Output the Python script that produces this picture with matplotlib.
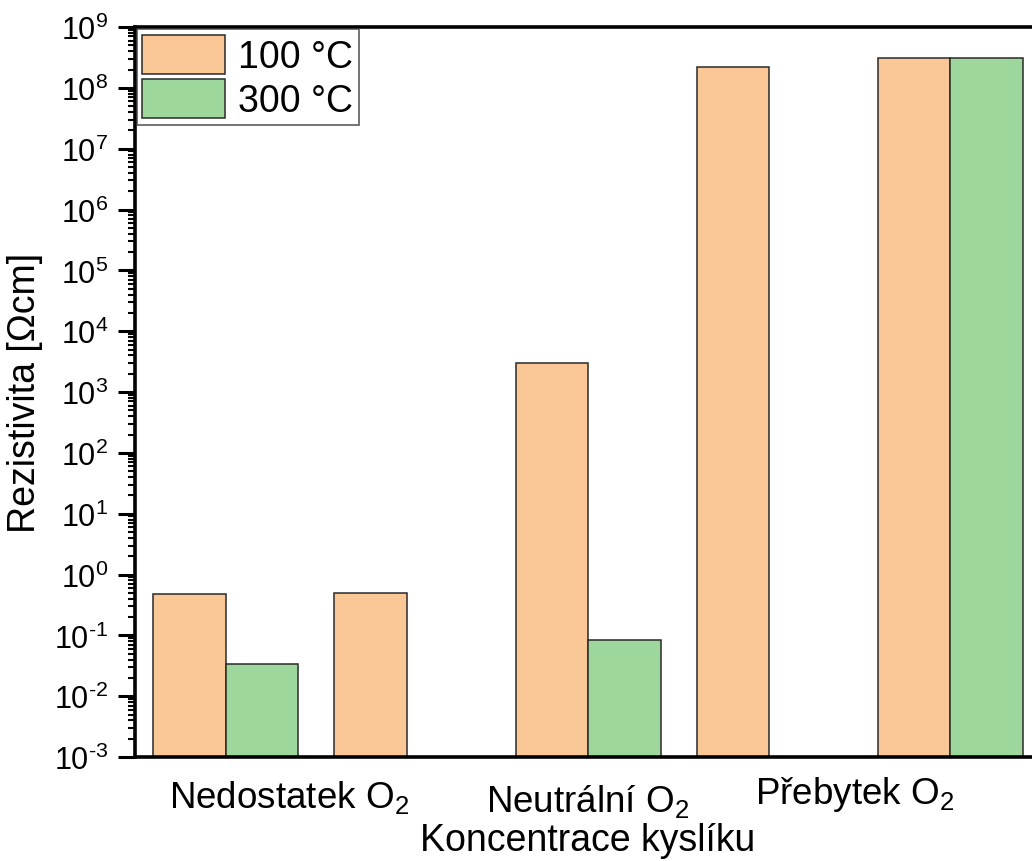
import numpy as np
import matplotlib
matplotlib.use("Agg")
import matplotlib.pyplot as plt
from matplotlib.ticker import LogLocator, NullFormatter, FuncFormatter
from matplotlib.transforms import ScaledTranslation

plt.rcParams['font.family'] = ['Liberation Sans', 'DejaVu Sans']
plt.rcParams['mathtext.fontset'] = 'custom'
plt.rcParams['mathtext.rm'] = 'Liberation Sans'
plt.rcParams['mathtext.it'] = 'Liberation Sans:italic'
plt.rcParams['mathtext.bf'] = 'Liberation Sans:bold'
plt.rcParams['axes.unicode_minus'] = False

# data
groups = [0, 1, 2, 3, 4]
r100 = [0.48, 0.50, 3000, 2.2e8, 3.1e8]
r300 = [0.034, np.nan, 0.083, np.nan, 3.1e8]
series_names = ['100 °C', '300 °C']
tick_pos = [0.35, 2.0, 3.47]
tick_labels = ['Nedostatek O$_2$', 'Neutrální O$_2$', 'Přebytek O$_2$']

c100 = '#FAC896'
c300 = '#9ED79B'
w = 0.4


def pow10(v, pos):
    e = int(round(np.log10(v)))
    if e < 0:
        return r'$\mathregular{10^{\text{-}%d}}$' % (-e)
    return r'$\mathregular{10^{%d}}$' % e


fig = plt.figure(figsize=(10.32, 8.62), dpi=100)
ax = fig.add_axes([0.1308, 0.1206, 0.878, 0.8469])

x = np.array(groups)
ax.bar(x - w/2, r100, w, color=c100, edgecolor='#2a2a2a', linewidth=1.1, label=series_names[0], log=True)
ax.bar(x + w/2, r300, w, color=c300, edgecolor='#2a2a2a', linewidth=1.1, label=series_names[1], log=True)

ax.set_yscale('log')
ax.set_ylim(1e-3, 1e9)
ax.set_xlim(-0.5, 4.5)
ax.yaxis.set_major_locator(LogLocator(base=10, numticks=30))
ax.yaxis.set_minor_locator(LogLocator(base=10, subs=np.arange(2, 10), numticks=300))
ax.yaxis.set_major_formatter(FuncFormatter(pow10))
ax.yaxis.set_minor_formatter(NullFormatter())

ax.tick_params(axis='x', length=0, pad=17)
ax.tick_params(axis='y', which='major', direction='out', length=12, width=2.2, labelsize=22, pad=7)
ax.tick_params(axis='y', which='minor', direction='out', length=5, width=1.5)
ax.set_xticks(tick_pos)
ax.set_xticklabels(tick_labels, fontsize=26.5)
# small vertical shifts of the category labels as in the original
for lbl, dy in zip(ax.get_xticklabels(), [2, -1, 5]):
    lbl.set_transform(lbl.get_transform() + ScaledTranslation(0, dy/72, fig.dpi_scale_trans))

for s in ['left', 'bottom', 'top']:
    ax.spines[s].set_linewidth(2.6)
ax.spines['right'].set_visible(False)

ax.set_ylabel('Rezistivita [Ωcm]', fontsize=27, labelpad=8)
ax.set_xlabel('Koncentrace kyslíku', fontsize=27, labelpad=2)

leg = ax.legend(loc='upper left', fontsize=27, frameon=True, fancybox=False,
                borderaxespad=0.05, borderpad=0.15, handlelength=2.2, handleheight=1.25,
                handletextpad=0.35, labelspacing=0.1)
leg.get_frame().set_edgecolor('#333333')
leg.get_frame().set_linewidth(1.2)

fig.savefig('out.png', dpi=100)
